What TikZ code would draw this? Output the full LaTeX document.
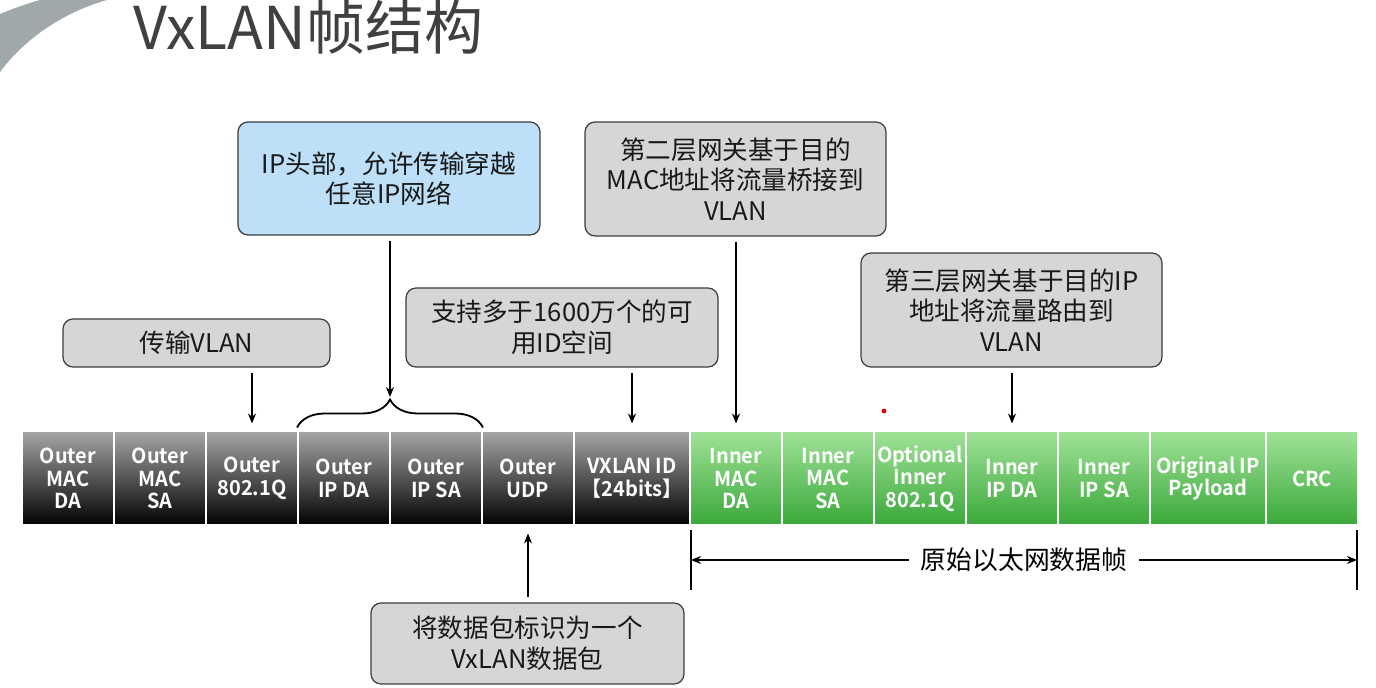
\documentclass[tikz,border=0pt]{standalone}
\usepackage{fontspec}
\setmainfont{Noto Sans CJK SC}[BoldFont={Noto Sans CJK SC Bold}]
\newfontfamily\cellfont{Noto Sans CJK SC Bold}[FakeStretch=0.97]
\usetikzlibrary{arrows.meta,decorations.pathreplacing}
\definecolor{boxgray}{RGB}{214,214,214}
\definecolor{boxblue}{RGB}{189,224,248}
\definecolor{edge}{RGB}{60,60,60}
\definecolor{titlegray}{RGB}{64,64,64}
\definecolor{arcgray}{RGB}{160,168,171}
\definecolor{greentop}{RGB}{160,226,152}
\definecolor{greenbot}{RGB}{58,168,58}
\tikzset{
  cell/.style={draw=white,line width=1pt,minimum height=47pt,inner sep=0pt,
    text=white,font=\cellfont\fontsize{10.3}{11.3}\selectfont,align=center},
  outercell/.style={cell,top color=black!35,middle color=black!94,bottom color=black},
  innercell/.style={cell,top color=greentop,bottom color=greenbot},
  callout/.style={draw=edge,line width=0.6pt,rounded corners=5pt,fill=boxgray,
    inner sep=0pt,align=center,font=\fontsize{12.8}{15.3}\selectfont,text=black!90},
  arr/.style={-{Stealth[length=5pt,width=4pt]},line width=0.7pt,black},
  dimline/.style={line width=0.9pt,black}
}
\begin{document}
\begin{tikzpicture}[x=0.5pt,y=-0.5pt]
\useasboundingbox (0,0) rectangle (1376,688);
% decorative arc
\fill[arcgray] (0,72) .. controls (20,45) and (55,15) .. (107,0) -- (40,0)
  .. controls (26,4) and (12,9) .. (0,14) -- cycle;
% title
\node[anchor=base west,inner sep=0pt,text=titlegray,font=\fontsize{29.5}{32}\selectfont] (title) at (133,50) {VxLAN帧结构};
% frame cells
\node[outercell,minimum width=46pt] (c1) at (68,478.5) {Outer\\MAC\\DA};
\node[outercell,minimum width=46pt] (c2) at (160,478.5) {Outer\\MAC\\SA};
\node[outercell,minimum width=46pt] (c3) at (252,478.5) {Outer\\802.1Q};
\node[outercell,minimum width=46pt] (c4) at (344,478.5) {Outer\\IP DA};
\node[outercell,minimum width=46pt] (c5) at (436,478.5) {Outer\\IP SA};
\node[outercell,minimum width=46pt] (c6) at (528,478.5) {Outer\\UDP};
\node[outercell,minimum width=58pt] (c7) at (632,478.5) {VXLAN ID\\【24bits】};
\node[innercell,minimum width=46pt] (g1) at (736,478.5) {Inner\\MAC\\DA};
\node[innercell,minimum width=46pt] (g2) at (828,478.5) {Inner\\MAC\\SA};
\node[innercell,minimum width=46pt] (g3) at (920,478.5) {Optional\\Inner\\802.1Q};
\node[innercell,minimum width=46pt] (g4) at (1012,478.5) {Inner\\IP DA};
\node[innercell,minimum width=46pt] (g5) at (1104,478.5) {Inner\\IP SA};
\node[innercell,minimum width=58pt] (g6) at (1208,478.5) {Original IP\\Payload};
\node[innercell,minimum width=46pt] (g7) at (1312,478.5) {CRC};
% callouts
\node[callout,minimum width=133.5pt,minimum height=24pt] (b1) at (196.5,343) {传输VLAN};
\node[callout,fill=boxblue,minimum width=151pt,minimum height=56.5pt] (b2) at (389,178.5) {IP头部，允许传输穿越\\任意IP网络};
\node[callout,minimum width=156pt,minimum height=39.5pt] (b3) at (562,327.5) {支持多于1600万个的可\\用ID空间};
\node[callout,minimum width=150.5pt,minimum height=57pt] (b4) at (735.5,179) {第二层网关基于目的\\MAC地址将流量桥接到\\VLAN};
\node[callout,minimum width=150.5pt,minimum height=57pt] (b5) at (1011.5,310) {第三层网关基于目的IP\\地址将流量路由到\\VLAN};
\node[callout,minimum width=156.5pt,minimum height=40.5pt] (b6) at (527.5,643.5) {将数据包标识为一个\\VxLAN数据包};
% brace
\coordinate (brL) at ([yshift=1.5pt]c4.north west);
\coordinate (brR) at ([yshift=1.5pt]c5.north east);
\draw[line width=0.9pt,decoration={brace,amplitude=14pt,aspect=0.5},decorate] (brL) -- (brR);
\coordinate (brtip) at (390,397);
% arrows
\draw[arr,shorten <=2.5pt,shorten >=3.5pt] (c3.north |- b1.south) -- (c3.north);
\draw[arr,shorten <=2.5pt] (b2.south -| brtip) -- (brtip);
\draw[arr,shorten <=2.5pt,shorten >=3.5pt] (c7.north |- b3.south) -- (c7.north);
\draw[arr,shorten <=2.5pt,shorten >=3.5pt] (g1.north |- b4.south) -- (g1.north);
\draw[arr,shorten <=2.5pt,shorten >=3.5pt] (g4.north |- b5.south) -- (g4.north);
\draw[arr,shorten <=2.5pt,shorten >=3.5pt] (c6.south |- b6.north) -- (c6.south);
% dimension
\coordinate (dA) at (691,530);
\coordinate (dB) at (691,590);
\coordinate (dC) at (1357,530);
\coordinate (dD) at (1357,590);
\draw[dimline] (dA) -- (dB);
\draw[dimline] (dC) -- (dD);
\coordinate (dL) at (691,560);
\coordinate (dR) at (1357,560);
\draw[dimline,{Stealth[length=5pt,width=4pt]}-{Stealth[length=5pt,width=4pt]}] (dL) -- (dR)
  node[midway,fill=white,inner xsep=6pt,font=\fontsize{12.9}{14}\selectfont] (dtext) {原始以太网数据帧};
% small red mark
\fill[red!85!black] (884,411) circle (1.2pt);
\end{tikzpicture}
\end{document}
